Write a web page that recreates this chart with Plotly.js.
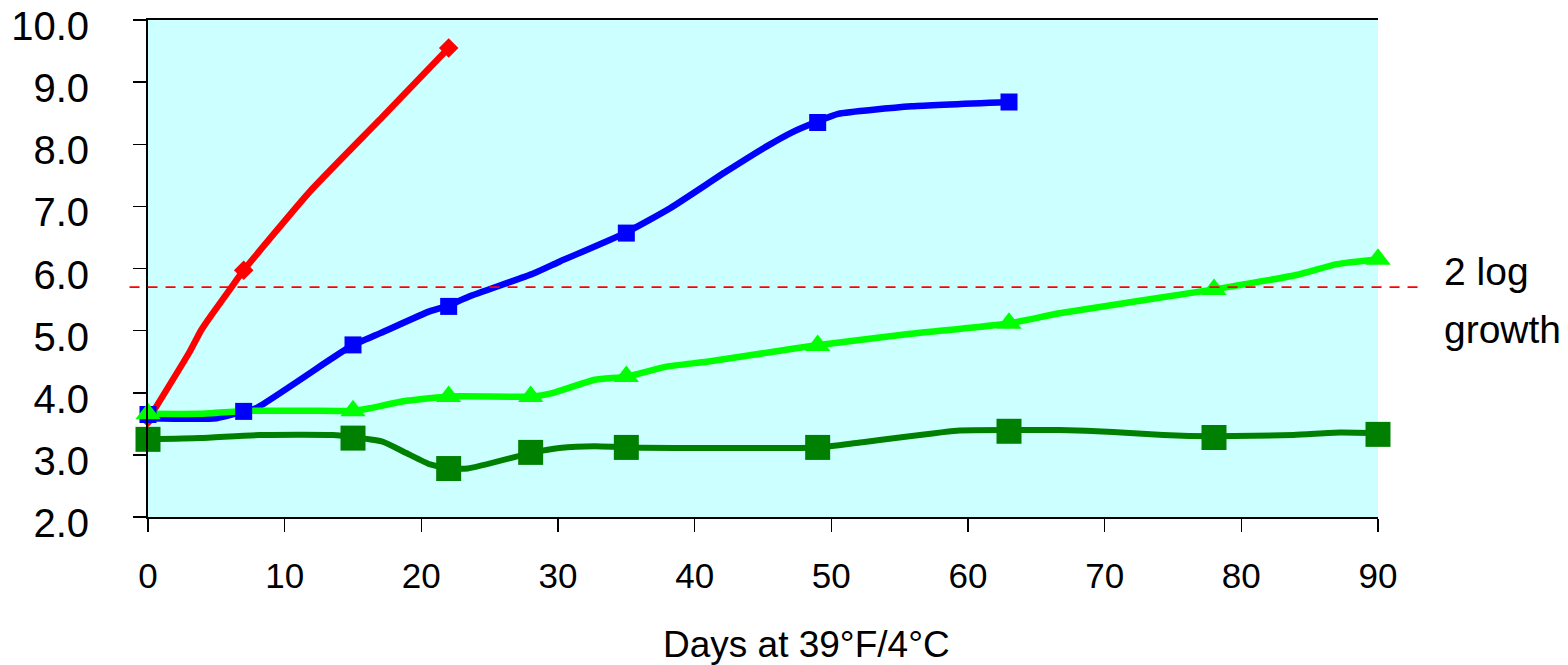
<!DOCTYPE html>
<html>
<head>
<meta charset="utf-8">
<script src="https://cdn.plot.ly/plotly-3.0.1.min.js"></script>
<style>html,body{margin:0;padding:0;background:#fff;}#chart{width:1568px;height:665px;}</style>
</head>
<body>
<div id="chart"></div>
<script>
// Red series
var redLineDays   = [0, 3.05, 3.9, 4.64, 5.98, 7.0, 11.85, 17.2, 22.0];
var redLineVals   = [3.56, 4.66, 5.01, 5.25, 5.66, 5.97, 7.24, 8.45, 9.55];
var redMarkDays   = [0, 7, 22];
var redMarkVals   = [3.6, 5.97, 9.55];

// Blue series
var blueLineDays  = [0, 5, 7, 7.9, 13.3, 15, 17, 20.6, 21.8, 23.5, 28.2, 30.1, 34.9, 38.2, 42.3, 45.3, 47.2, 48.8, 50.5, 55.9, 63];
var blueLineVals  = [3.59, 3.59, 3.70, 3.75, 4.53, 4.77, 4.96, 5.31, 5.39, 5.55, 5.92, 6.11, 6.57, 6.97, 7.56, 7.97, 8.20, 8.35, 8.49, 8.61, 8.68];
var blueMarkDays  = [0, 7, 15, 22, 35, 49, 63];
var blueMarkVals  = [3.65, 3.70, 4.77, 5.39, 6.57, 8.35, 8.68];

// Light green series
var greenLineDays = [0, 3.8, 7.4, 11.6, 15.1, 16.2, 18.9, 22.0, 28.1, 29.5, 32.7, 35.0, 37.95, 40.9, 45.75, 48.8, 55.5, 63.1, 66.7, 77.9, 84.1, 87.0, 90];
var greenLineVals = [3.66, 3.66, 3.71, 3.71, 3.71, 3.75, 3.87, 3.94, 3.94, 3.99, 4.21, 4.26, 4.42, 4.50, 4.66, 4.76, 4.94, 5.12, 5.28, 5.66, 5.90, 6.07, 6.15];
var greenMarkDays = [0, 15, 22, 28, 35, 49, 63, 78, 90];
var greenMarkVals = [3.66, 3.71, 3.94, 3.94, 4.26, 4.76, 5.12, 5.66, 6.15];

// Dark green series
var dkLineDays    = [0, 3.8, 8.2, 13.5, 15.2, 17.2, 18.9, 20.6, 22.0, 23.4, 28.2, 30.1, 32.7, 35.1, 49.05, 52.1, 59.2, 63.2, 66.7, 70.6, 74.3, 78.0, 83.8, 87.2, 90];
var dkLineVals    = [3.25, 3.27, 3.32, 3.32, 3.28, 3.21, 3.03, 2.85, 2.78, 2.78, 3.04, 3.11, 3.14, 3.12, 3.12, 3.20, 3.39, 3.40, 3.40, 3.37, 3.32, 3.30, 3.32, 3.36, 3.35];
var dkMarkDays    = [0, 15, 22, 28, 35, 49, 63, 78, 90];
var dkMarkVals    = [3.25, 3.27, 2.78, 3.04, 3.12, 3.12, 3.38, 3.28, 3.33];

// Threshold and tick labels
var thresholdLog  = 5.7;
var yTickVals     = [2, 3, 4, 5, 6, 7, 8, 9, 10];
var yTickText     = ['2.0', '3.0', '4.0', '5.0', '6.0', '7.0', '8.0', '9.0', '10.0'];
var xTickVals     = [0, 10, 20, 30, 40, 50, 60, 70, 80, 90];
var xTitleText    = 'Days at 39°F/4°C';
var thresholdText = ['2 log', 'growth'];

var FONT = 'Liberation Sans, Arial, sans-serif';
var RED = '#FF0000', BLUE = '#0000FF', GREEN = '#00FF00', DKGREEN = '#008000';

function lineTrace(x, y, color, w) {
  return {x: x, y: y, type: 'scatter', mode: 'lines', cliponaxis: false,
          line: {color: color, width: w, shape: 'spline', smoothing: 0.5}, hoverinfo: 'skip', showlegend: false};
}
function markTrace(x, y, color, sym, size) {
  return {x: x, y: y, type: 'scatter', mode: 'markers', cliponaxis: false,
          marker: {color: color, symbol: sym, size: size, line: {width: 0}}, showlegend: false};
}

var data = [
  lineTrace(redLineDays, redLineVals, RED, 6.5),
  lineTrace(blueLineDays, blueLineVals, BLUE, 6.5),
  lineTrace(greenLineDays, greenLineVals, GREEN, 6.5),
  lineTrace(dkLineDays, dkLineVals, DKGREEN, 6),
  markTrace(redMarkDays, redMarkVals, RED, 'diamond', 15),
  markTrace(blueMarkDays, blueMarkVals, BLUE, 'square', 17),
  markTrace(greenMarkDays, greenMarkVals, GREEN, 'triangle-up', 22),
  markTrace(dkMarkDays, dkMarkVals, DKGREEN, 'square', 25)
];

var yMin = 2, yMax = 10;
var layout = {
  width: 1568, height: 665,
  margin: {l: 148, r: 190, t: 20, b: 148, pad: 0},
  paper_bgcolor: '#FFFFFF',
  plot_bgcolor: '#CCFFFF',
  font: {family: FONT, color: '#000'},
  showlegend: false,
  xaxis: {
    range: [0, 90], tickvals: xTickVals, ticks: 'outside', ticklen: 13, tickwidth: 1.5, tickcolor: '#000',
    showline: true, linecolor: '#000', linewidth: 2, mirror: true, showgrid: false, zeroline: false,
    tickfont: {size: 35, family: FONT, color: '#000'}, ticklabelstandoff: 14, fixedrange: true,
    ticklabeloverflow: 'allow'
  },
  yaxis: {
    range: [yMin, yMax], tickvals: yTickVals, ticktext: yTickText, ticks: 'outside', ticklen: 13, tickwidth: 1.5, tickcolor: '#000',
    showline: true, linecolor: '#000', linewidth: 2, showgrid: false, zeroline: false,
    tickfont: {size: 40, family: FONT, color: '#000'}, ticklabelstandoff: 36, ticklabelshift: 6, fixedrange: true,
    ticklabeloverflow: 'allow'
  },
  shapes: [{
    type: 'line', xref: 'paper', yref: 'paper',
    x0: -0.015, x1: 1.033,
    y0: (thresholdLog - yMin) / (yMax - yMin), y1: (thresholdLog - yMin) / (yMax - yMin),
    line: {color: RED, width: 1.8, dash: '10px,8px'}, layer: 'above'
  }],
  annotations: [
    {text: thresholdText[0], xref: 'paper', yref: 'paper', x: 1.052, y: 0.493, xanchor: 'left', yanchor: 'middle',
     showarrow: false, font: {size: 39, family: FONT, color: '#000'}},
    {text: thresholdText[1], xref: 'paper', yref: 'paper', x: 1.052, y: 0.378, xanchor: 'left', yanchor: 'middle',
     showarrow: false, font: {size: 39, family: FONT, color: '#000'}},
    {text: xTitleText, xref: 'paper', yref: 'paper', x: 0.5351, y: -0.256, xanchor: 'center', yanchor: 'middle',
     showarrow: false, font: {size: 37, family: FONT, color: '#000'}}
  ]
};

Plotly.newPlot('chart', data, layout, {staticPlot: true, displayModeBar: false});
</script>
</body>
</html>
